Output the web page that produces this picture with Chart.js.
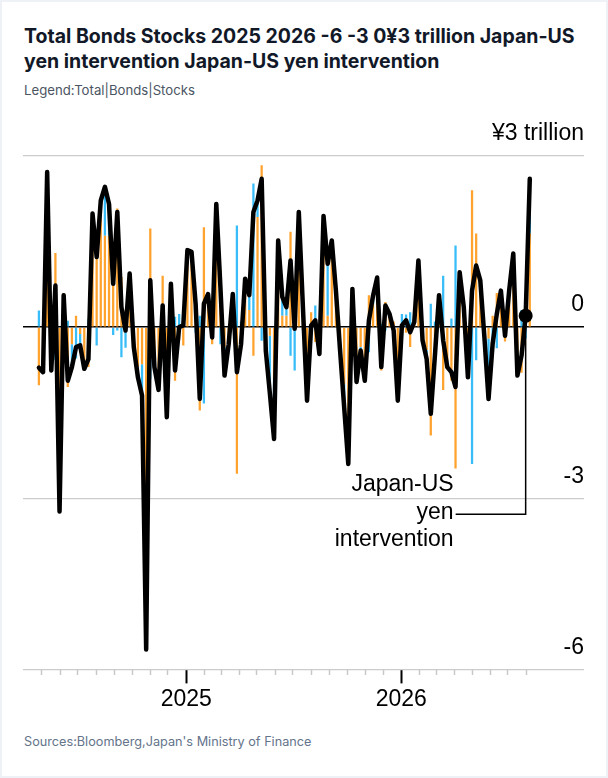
<!DOCTYPE html>
<html>
<head>
<meta charset="utf-8">
<script src="https://cdn.jsdelivr.net/npm/chart.js@4.4.1/dist/chart.umd.min.js"></script>
<style>
  html, body { margin: 0; padding: 0; background: #eef2f6; }
  .card { position: absolute; left: 2px; top: 2px; width: 604px; height: 774px; background: #fff; }
  .title { position: absolute; left: 24px; top: 24px; width: 565px; margin: 0;
           font: 700 19.5px/25px Inter, "Noto Sans", sans-serif; color: #111827; }
  .sub { position: absolute; left: 24px; top: 82px; font: 400 13.2px Inter, sans-serif; color: #4b5563; }
  .src { position: absolute; left: 24px; top: 734px; font: 400 12.7px Inter, sans-serif; color: #64748b; }
  .wrap { position: absolute; left: 0; top: 110px; width: 608px; height: 612px; }
</style>
</head>
<body>
<div class="card"></div>
<div class="title">Total Bonds Stocks 2025 2026 -6 -3 0¥3 trillion Japan-US yen intervention Japan-US yen intervention</div>
<div class="sub">Legend:Total|Bonds|Stocks</div>
<div class="wrap"><canvas id="flowChart"></canvas></div>
<div class="src">Sources:Bloomberg,Japan's Ministry of Finance</div>
<script>
// weekly flows, ¥ trillion
const weeks = [
  '2024-04-26','2024-05-03','2024-05-10','2024-05-17','2024-05-24','2024-05-31',
  '2024-06-07','2024-06-14','2024-06-21','2024-06-28',
  '2024-07-05','2024-07-12','2024-07-19','2024-07-26',
  '2024-08-02','2024-08-09','2024-08-16','2024-08-23','2024-08-30',
  '2024-09-06','2024-09-13','2024-09-20','2024-09-27',
  '2024-10-04','2024-10-11','2024-10-18','2024-10-25',
  '2024-11-01','2024-11-08','2024-11-15','2024-11-22','2024-11-29',
  '2024-12-06','2024-12-13','2024-12-20','2024-12-27',
  '2025-01-03','2025-01-10','2025-01-17','2025-01-24','2025-01-31',
  '2025-02-07','2025-02-14','2025-02-21','2025-02-28',
  '2025-03-07','2025-03-14','2025-03-21','2025-03-28',
  '2025-04-04','2025-04-11','2025-04-18','2025-04-25',
  '2025-05-02','2025-05-09','2025-05-16','2025-05-23','2025-05-30',
  '2025-06-06','2025-06-13','2025-06-20','2025-06-27',
  '2025-07-04','2025-07-11','2025-07-18','2025-07-25',
  '2025-08-01','2025-08-08','2025-08-15','2025-08-22','2025-08-29',
  '2025-09-05','2025-09-12','2025-09-19','2025-09-26',
  '2025-10-03','2025-10-10','2025-10-17','2025-10-24','2025-10-31',
  '2025-11-07','2025-11-14','2025-11-21','2025-11-28',
  '2025-12-05','2025-12-12','2025-12-19','2025-12-26',
  '2026-01-02','2026-01-09','2026-01-16','2026-01-23','2026-01-30',
  '2026-02-06','2026-02-13','2026-02-20','2026-02-27',
  '2026-03-06','2026-03-13','2026-03-20','2026-03-27',
  '2026-04-03','2026-04-10','2026-04-17','2026-04-24',
  '2026-05-01','2026-05-08','2026-05-15','2026-05-22','2026-05-29',
  '2026-06-05','2026-06-12','2026-06-19','2026-06-26',
  '2026-07-03','2026-07-10','2026-07-17','2026-07-24','2026-07-31',
  '2026-08-07'
];

const total = [
  -0.71, -0.79, 2.72, -0.76, 0.73, -3.23, 0.56, -0.94, -0.70, -0.35,
  -0.32, -0.73, -0.56, 1.99, 1.23, 2.22, 2.46, 2.16, 0.76, 2.02,
  0.35, -0.06, 0.94, -0.35, -0.88, -1.20, -5.65, 0.82, -0.70, -1.10,
  0.38, -1.58, 0.76, -0.76, 0.00, 0.03, 1.35, 1.32, 0.40, -1.26,
  0.41, 0.58, -0.18, 2.16, 0.70, -0.85, -0.30, 0.58, -0.79, -0.30,
  0.85, 0.56, 2.02, 2.22, 2.60, -0.41, -1.17, -1.96, 1.52, 0.53,
  0.35, 1.17, -0.03, 2.02, 0.35, -1.29, 0.03, 0.12, -0.47, 1.95,
  1.11, 1.52, 0.64, -0.40, -1.40, -2.40, 0.67, -0.96, -0.41, -0.94,
  0.12, 0.55, 0.87, -0.70, 0.38, 0.23, -0.06, -1.29, 0.03, 0.12,
  -0.09, 0.09, 1.17, -0.23, -0.56, -1.52, -0.50, 0.56, -0.23, -0.70,
  -0.79, -1.05, 0.96, 0.35, -0.88, 0.64, 1.08, 0.82, -0.18, -1.26,
  -0.29, 0.23, 0.64, -0.15, 0.64, 1.29, -0.85, -0.50, 0.20, 2.60
];

const bonds = [
  -1.02, -0.70, 1.90, -0.55, 1.30, -2.10, 0.60, -1.05, -0.30, 0.20,
  -0.12, -0.60, -0.70, 1.40, 1.55, 1.90, 1.60, 1.60, 0.90, 2.08,
  0.88, 0.30, 0.80, -0.30, -0.70, -0.65, -4.00, 1.73, -0.60, -0.90,
  0.90, -1.20, 0.70, -0.94, -0.23, -0.32, 1.20, 1.30, 0.50, -1.46,
  1.75, 0.50, -0.30, 1.80, 1.00, -0.35, -0.20, 0.50, -2.57, -0.40,
  0.60, 0.30, -0.50, 1.93, 2.84, -0.20, -0.15, -0.90, 1.55, 0.20,
  0.20, 1.67, 0.73, 1.70, 0.40, -0.90, 0.26, -0.26, -0.30, 1.50,
  0.20, 1.20, 0.60, -0.30, -1.00, -1.60, 0.50, -0.50, -0.35, -0.70,
  0.56, 0.40, 0.70, -0.76, 0.44, 0.20, 0.10, -0.90, -0.20, -0.10,
  -0.35, 0.10, 0.90, -0.10, -0.40, -1.90, -0.60, 0.40, -1.10, -0.60,
  -0.94, -2.48, 0.70, 0.20, -0.60, 2.40, 1.64, 0.60, -0.10, -0.20,
  0.20, 0.60, 0.50, -0.25, 0.50, 1.10, -0.70, -0.80, 0.40, 1.64
];

const stocks = [
  0.29, -0.09, 0.82, -0.21, -0.57, -1.13, -0.04, 0.11, -0.40, -0.55,
  -0.20, -0.13, 0.14, 0.60, -0.32, 0.32, 0.86, 0.56, -0.14, -0.06,
  -0.53, -0.36, 0.14, -0.05, -0.18, -0.55, -1.65, -0.91, -0.10, -0.20,
  -0.52, -0.38, 0.06, 0.18, 0.23, 0.35, 0.15, 0.02, -0.10, 0.20,
  -1.34, 0.08, 0.12, 0.36, -0.30, -0.50, -0.10, 0.08, 1.78, 0.10,
  0.25, 0.26, 2.52, 0.29, -0.24, -0.21, -1.02, -1.06, -0.03, 0.33,
  0.15, -0.50, -0.76, 0.32, -0.05, -0.39, -0.23, 0.38, -0.17, 0.45,
  0.91, 0.32, 0.04, -0.10, -0.40, -0.80, 0.17, -0.46, -0.06, -0.24,
  -0.44, 0.15, 0.17, 0.06, -0.06, 0.03, -0.16, -0.39, 0.23, 0.22,
  0.26, -0.01, 0.27, -0.13, -0.16, 0.41, 0.10, 0.16, 0.90, -0.10,
  0.15, 1.43, 0.26, 0.15, -0.28, -2.40, -0.58, 0.22, -0.08, -1.06,
  -0.49, -0.37, 0.14, 0.10, 0.14, 0.19, -0.15, 0.30, -0.20, 0.96
];

const yTicks = [-6, -3, 0, 3];
const yTickLabels = ['-6', '-3', '0', '¥3 trillion'];
const xTickDates = ['2025-01-01', '2026-01-01'];
const xTickLabels = ['2025', '2026'];
const xRange = ['2024-03-30', '2026-11-07'];
const monthRange = ['2024-05-01', '2026-08-01'];

const noteIndex = 118;              // week of the Japan-US yen intervention
const noteElbow = -3.28;
const noteLines = ['Japan-US', 'yen', 'intervention'];

const ORANGE = '#ffa32e';
const BLUE = '#38bdf8';
const AXIS_FONT = '"Liberation Sans", Arial, Helvetica, sans-serif';

const day = s => Date.parse(s + 'T00:00:00Z');
const pts = arr => arr.map((v, i) => ({ x: day(weeks[i]), y: v }));
const majorX = xTickDates.map(day);

// month starts for the small ticks along the bottom
const monthTicks = [];
for (let d = new Date(day(monthRange[0])); d.getTime() <= day(monthRange[1]); d.setUTCMonth(d.getUTCMonth() + 1)) {
    monthTicks.push(d.getTime());
}

const notePlugin = {
    id: 'note',
    afterDatasetsDraw(chart) {
        const { ctx, scales } = chart;
        const px = scales.x.getPixelForValue(day(weeks[noteIndex]));
        const py = scales.y.getPixelForValue(total[noteIndex]);
        const ey = scales.y.getPixelForValue(noteElbow);
        ctx.save();
        ctx.strokeStyle = '#000';
        ctx.lineWidth = 1.5;
        ctx.beginPath();
        ctx.moveTo(px, py);
        ctx.lineTo(px, ey);
        ctx.lineTo(px - 70, ey);
        ctx.stroke();
        ctx.fillStyle = '#000';
        ctx.font = '23px ' + AXIS_FONT;
        ctx.textAlign = 'right';
        ctx.textBaseline = 'alphabetic';
        ctx.fillText(noteLines[0], px - 72, ey - 23);
        ctx.fillText(noteLines[1], px - 72, ey + 5);
        ctx.fillText(noteLines[2], px - 72, ey + 32);
        ctx.restore();
    }
};

new Chart(document.getElementById('flowChart'), {
    type: 'bar',
    data: {
        datasets: [
            {
                type: 'line',
                label: 'Total',
                data: pts(total),
                borderColor: '#000',
                borderWidth: 4.5,
                borderJoinStyle: 'round',
                borderCapStyle: 'round',
                tension: 0,
                pointRadius: c => c.dataIndex === noteIndex ? 7 : 0,
                pointBackgroundColor: '#000',
                pointBorderWidth: 0,
                stack: 'total',
                order: 0,
                clip: false
            },
            {
                label: 'Bonds',
                data: pts(bonds),
                backgroundColor: ORANGE,
                borderWidth: 0,
                barPercentage: 0.55,
                categoryPercentage: 1,
                stack: 'flows',
                order: 2
            },
            {
                label: 'Stocks',
                data: pts(stocks),
                backgroundColor: BLUE,
                borderWidth: 0,
                barPercentage: 0.55,
                categoryPercentage: 1,
                stack: 'flows',
                order: 3
            }
        ]
    },
    options: {
        responsive: true,
        maintainAspectRatio: false,
        animation: false,
        events: [],
        layout: { padding: { left: 23, right: 24, top: 46, bottom: 7 } },
        plugins: {
            legend: { display: false },
            tooltip: { enabled: false }
        },
        scales: {
            x: {
                type: 'linear',
                min: day(xRange[0]),
                max: day(xRange[1]),
                stacked: true,
                offset: false,
                afterBuildTicks: axis => { axis.ticks = monthTicks.map(v => ({ value: v })); },
                ticks: {
                    autoSkip: false,
                    maxRotation: 0,
                    padding: 2,
                    color: '#000',
                    font: { family: AXIS_FONT, size: 23 },
                    callback: v => {
                        const k = majorX.indexOf(v);
                        return k >= 0 ? xTickLabels[k] : '';
                    }
                },
                grid: {
                    drawOnChartArea: false,
                    offset: false,
                    tickLength: 14,
                    tickColor: c => majorX.includes(c.tick.value) ? '#000' : '#c8c8c8',
                    tickWidth: c => majorX.includes(c.tick.value) ? 2 : 1.5,
                    tickBorderDash: c => majorX.includes(c.tick.value) ? [] : [6, 40]
                },
                border: { display: false }
            },
            y: {
                position: 'right',
                min: -6,
                max: 3,
                stacked: true,
                afterBuildTicks: axis => { axis.ticks = yTicks.map(v => ({ value: v })); },
                ticks: {
                    mirror: true,
                    padding: 0,
                    labelOffset: -22,
                    color: '#000',
                    font: { family: AXIS_FONT, size: 23 },
                    callback: v => yTickLabels[yTicks.indexOf(v)]
                },
                grid: {
                    drawTicks: false,
                    color: c => c.tick && c.tick.value === 0 ? '#000' : '#cccccc',
                    lineWidth: c => c.tick && c.tick.value === 0 ? 1.5 : 1.2
                },
                border: { display: false }
            }
        }
    },
    plugins: [notePlugin]
});
</script>
</body>
</html>
